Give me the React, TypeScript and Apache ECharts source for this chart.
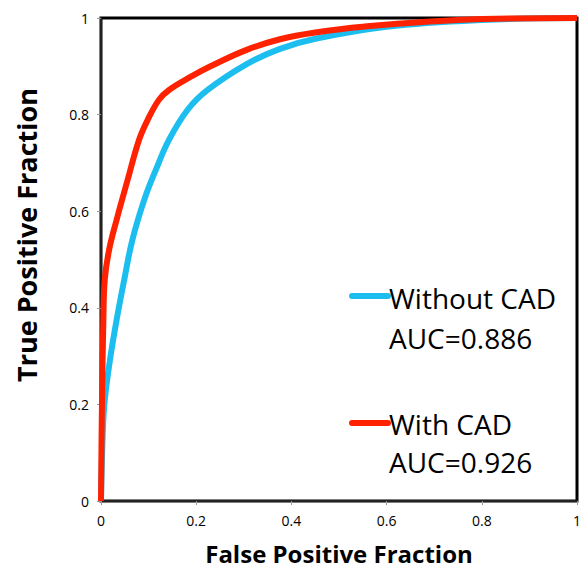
import React, { useEffect, useRef } from "react";
import * as echarts from "echarts";

const xTicks = [0, 0.2, 0.4, 0.6, 0.8, 1];
const yTicks = [0, 0.2, 0.4, 0.6, 0.8, 1];

const xTitle = "False Positive Fraction";
const yTitle = "True Positive Fraction";
const seriesNames = ["Without CAD", "With CAD"];
const aucLabels = ["AUC=0.886", "AUC=0.926"];

const withoutCadFpr = [0, 0.004, 0.008, 0.019, 0.033, 0.049, 0.066, 0.091, 0.115, 0.143, 0.182, 0.224, 0.307, 0.376, 0.45, 0.6, 0.8, 1];
const withoutCadTpr = [0, 0.15, 0.21, 0.293, 0.376, 0.459, 0.541, 0.624, 0.685, 0.748, 0.81, 0.851, 0.905, 0.936, 0.957, 0.982, 0.996, 1];

const withCadFpr = [0, 0.002, 0.005, 0.008, 0.017, 0.033, 0.056, 0.08, 0.098, 0.122, 0.143, 0.188, 0.23, 0.306, 0.376, 0.45, 0.55, 0.75, 1];
const withCadTpr = [0, 0.2, 0.376, 0.459, 0.52, 0.583, 0.665, 0.748, 0.789, 0.831, 0.851, 0.878, 0.9, 0.934, 0.956, 0.97, 0.982, 0.996, 1];

const BLUE = "#1CBDEF";
const RED = "#FF2200";
const FONT = "Open Sans";

function pairs(xs: number[], ys: number[]) {
  return xs.map((x, i) => [x, ys[i]]);
}

export default function App() {
  const ref = useRef<HTMLDivElement>(null);
  useEffect(() => {
    if (!ref.current) return;
    const chart = echarts.init(ref.current, undefined, { renderer: "svg" });
    const axisCommon = {
      type: "value" as const,
      min: xTicks[0],
      max: xTicks[xTicks.length - 1],
      interval: 0.2,
      splitLine: { show: false },
      axisLine: { show: true, lineStyle: { color: "#222", width: 2 } },
      axisTick: { show: true, length: 4, lineStyle: { color: "#999", width: 1 } },
      axisLabel: {
        color: "#000",
        fontFamily: FONT,
        fontSize: 14,
        margin: 12,
        formatter: (v: number) => String(Number(v.toFixed(1))),
      },
    };
    chart.setOption({
      animation: false,
      backgroundColor: "#fff",
      grid: {
        left: 101,
        top: 18,
        width: 476,
        height: 484,
        show: true,
        borderColor: "#000",
        borderWidth: 3,
      },
      xAxis: {
        ...axisCommon,
        name: xTitle,
        nameLocation: "middle",
        nameGap: 40,
        nameTextStyle: { fontFamily: FONT, fontWeight: "bold", fontSize: 24, color: "#000" },
      },
      yAxis: {
        ...axisCommon,
        min: yTicks[0],
        max: yTicks[yTicks.length - 1],
      },
      series: [
        {
          name: seriesNames[0],
          type: "line",
          smooth: 0.4,
          showSymbol: false,
          data: pairs(withoutCadFpr, withoutCadTpr),
          lineStyle: { color: BLUE, width: 6 },
          itemStyle: { color: BLUE },
          z: 2,
        },
        {
          name: seriesNames[1],
          type: "line",
          smooth: 0.4,
          showSymbol: false,
          data: pairs(withCadFpr, withCadTpr),
          lineStyle: { color: RED, width: 6 },
          itemStyle: { color: RED },
          z: 3,
        },
      ],
      graphic: [
        {
          type: "text",
          x: 26,
          y: 235,
          rotation: Math.PI / 2,
          style: { text: yTitle, font: `bold 27px "${FONT}"`, fill: "#000", align: "center", verticalAlign: "middle" },
        },
        { type: "line", shape: { x1: 352, y1: 296, x2: 388, y2: 296 }, style: { stroke: BLUE, lineWidth: 6, lineCap: "round" } },
        { type: "text", x: 389, y: 298, style: { text: seriesNames[0], font: `28px "${FONT}"`, fill: "#000", verticalAlign: "middle" } },
        { type: "text", x: 389, y: 338, style: { text: aucLabels[0], font: `28px "${FONT}"`, fill: "#000", verticalAlign: "middle" } },
        { type: "line", shape: { x1: 352, y1: 423, x2: 388, y2: 423 }, style: { stroke: RED, lineWidth: 6, lineCap: "round" } },
        { type: "text", x: 389, y: 424, style: { text: seriesNames[1], font: `28px "${FONT}"`, fill: "#000", verticalAlign: "middle" } },
        { type: "text", x: 389, y: 462, style: { text: aucLabels[1], font: `28px "${FONT}"`, fill: "#000", verticalAlign: "middle" } },
      ],
    });
    return () => chart.dispose();
  }, []);
  return <div ref={ref} style={{ width: 587, height: 570, position: "absolute", left: 0, top: 0 }} />;
}
